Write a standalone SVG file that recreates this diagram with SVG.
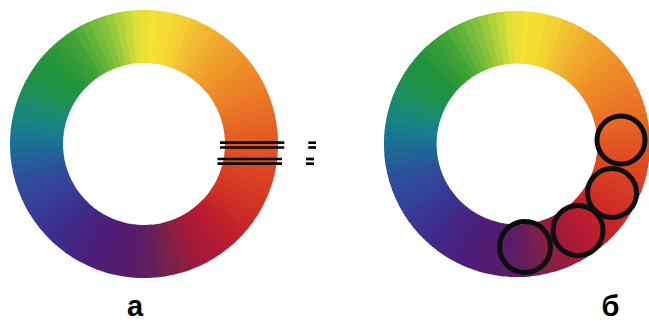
<svg xmlns="http://www.w3.org/2000/svg" xmlns:xlink="http://www.w3.org/1999/xlink" width="649" height="322" viewBox="0 0 649 322">
<style>
.ln{stroke:#000;stroke-width:2.7;fill:none}
.ring-mark{fill:none;stroke:#0d0d0d;stroke-width:5}
.lbl{font-family:"Liberation Sans",Arial,sans-serif;font-weight:bold;font-size:29px;fill:#000;text-anchor:middle}
</style>
<defs>
<path id="w" d="M0,-134 A134,134 0 0 1 9.93,-133.63 L6.00,-80.78 A81,81 0 0 0 0,-81 Z"/>
<g id="wheel" transform="rotate(1.875)">
<use href="#w" fill="#f6e134" transform="rotate(0)"/>
<use href="#w" fill="#f5de34" transform="rotate(3.75)"/>
<use href="#w" fill="#f5db34" transform="rotate(7.5)"/>
<use href="#w" fill="#f4d433" transform="rotate(11.25)"/>
<use href="#w" fill="#f4ce33" transform="rotate(15)"/>
<use href="#w" fill="#f3c432" transform="rotate(18.75)"/>
<use href="#w" fill="#f3bb32" transform="rotate(22.5)"/>
<use href="#w" fill="#f2b431" transform="rotate(26.25)"/>
<use href="#w" fill="#f1ac30" transform="rotate(30)"/>
<use href="#w" fill="#f0a52e" transform="rotate(33.75)"/>
<use href="#w" fill="#f09f2c" transform="rotate(37.5)"/>
<use href="#w" fill="#ef992a" transform="rotate(41.25)"/>
<use href="#w" fill="#ef9329" transform="rotate(45)"/>
<use href="#w" fill="#ee8d28" transform="rotate(48.75)"/>
<use href="#w" fill="#ee8827" transform="rotate(52.5)"/>
<use href="#w" fill="#ed8327" transform="rotate(56.25)"/>
<use href="#w" fill="#ec7e27" transform="rotate(60)"/>
<use href="#w" fill="#eb7826" transform="rotate(63.75)"/>
<use href="#w" fill="#ea7326" transform="rotate(67.5)"/>
<use href="#w" fill="#e86d25" transform="rotate(71.25)"/>
<use href="#w" fill="#e76725" transform="rotate(75)"/>
<use href="#w" fill="#e56124" transform="rotate(78.75)"/>
<use href="#w" fill="#e45b24" transform="rotate(82.5)"/>
<use href="#w" fill="#e25624" transform="rotate(86.25)"/>
<use href="#w" fill="#e15124" transform="rotate(90)"/>
<use href="#w" fill="#df4c23" transform="rotate(93.75)"/>
<use href="#w" fill="#dd4823" transform="rotate(97.5)"/>
<use href="#w" fill="#db4323" transform="rotate(101.25)"/>
<use href="#w" fill="#d93f23" transform="rotate(105)"/>
<use href="#w" fill="#d63b23" transform="rotate(108.75)"/>
<use href="#w" fill="#d33724" transform="rotate(112.5)"/>
<use href="#w" fill="#d03225" transform="rotate(116.25)"/>
<use href="#w" fill="#ce2e26" transform="rotate(120)"/>
<use href="#w" fill="#c92928" transform="rotate(123.75)"/>
<use href="#w" fill="#c5242a" transform="rotate(127.5)"/>
<use href="#w" fill="#c0202c" transform="rotate(131.25)"/>
<use href="#w" fill="#bc1c2f" transform="rotate(135)"/>
<use href="#w" fill="#b61b31" transform="rotate(138.75)"/>
<use href="#w" fill="#b01a34" transform="rotate(142.5)"/>
<use href="#w" fill="#a91a36" transform="rotate(146.25)"/>
<use href="#w" fill="#a31a39" transform="rotate(150)"/>
<use href="#w" fill="#981c3d" transform="rotate(153.75)"/>
<use href="#w" fill="#8e1e42" transform="rotate(157.5)"/>
<use href="#w" fill="#831f47" transform="rotate(161.25)"/>
<use href="#w" fill="#78214c" transform="rotate(165)"/>
<use href="#w" fill="#6e2053" transform="rotate(168.75)"/>
<use href="#w" fill="#641f5b" transform="rotate(172.5)"/>
<use href="#w" fill="#5e1e61" transform="rotate(176.25)"/>
<use href="#w" fill="#591d67" transform="rotate(180)"/>
<use href="#w" fill="#561c6a" transform="rotate(183.75)"/>
<use href="#w" fill="#541c6e" transform="rotate(187.5)"/>
<use href="#w" fill="#521c71" transform="rotate(191.25)"/>
<use href="#w" fill="#501c75" transform="rotate(195)"/>
<use href="#w" fill="#4e1d78" transform="rotate(198.75)"/>
<use href="#w" fill="#4c1e7c" transform="rotate(202.5)"/>
<use href="#w" fill="#4a207f" transform="rotate(206.25)"/>
<use href="#w" fill="#472283" transform="rotate(210)"/>
<use href="#w" fill="#442685" transform="rotate(213.75)"/>
<use href="#w" fill="#402988" transform="rotate(217.5)"/>
<use href="#w" fill="#3e2e8b" transform="rotate(221.25)"/>
<use href="#w" fill="#3b328f" transform="rotate(225)"/>
<use href="#w" fill="#393692" transform="rotate(228.75)"/>
<use href="#w" fill="#373b96" transform="rotate(232.5)"/>
<use href="#w" fill="#354098" transform="rotate(236.25)"/>
<use href="#w" fill="#33449a" transform="rotate(240)"/>
<use href="#w" fill="#32489b" transform="rotate(243.75)"/>
<use href="#w" fill="#304b9c" transform="rotate(247.5)"/>
<use href="#w" fill="#2c519b" transform="rotate(251.25)"/>
<use href="#w" fill="#28579a" transform="rotate(255)"/>
<use href="#w" fill="#236098" transform="rotate(258.75)"/>
<use href="#w" fill="#1e6897" transform="rotate(262.5)"/>
<use href="#w" fill="#1b7094" transform="rotate(266.25)"/>
<use href="#w" fill="#187892" transform="rotate(270)"/>
<use href="#w" fill="#187e8a" transform="rotate(273.75)"/>
<use href="#w" fill="#188483" transform="rotate(277.5)"/>
<use href="#w" fill="#198878" transform="rotate(281.25)"/>
<use href="#w" fill="#1a8b6d" transform="rotate(285)"/>
<use href="#w" fill="#1c8e60" transform="rotate(288.75)"/>
<use href="#w" fill="#1d9053" transform="rotate(292.5)"/>
<use href="#w" fill="#1f914c" transform="rotate(296.25)"/>
<use href="#w" fill="#209145" transform="rotate(300)"/>
<use href="#w" fill="#229240" transform="rotate(303.75)"/>
<use href="#w" fill="#24933a" transform="rotate(307.5)"/>
<use href="#w" fill="#2b9739" transform="rotate(311.25)"/>
<use href="#w" fill="#329b37" transform="rotate(315)"/>
<use href="#w" fill="#3aa036" transform="rotate(318.75)"/>
<use href="#w" fill="#42a435" transform="rotate(322.5)"/>
<use href="#w" fill="#52ac37" transform="rotate(326.25)"/>
<use href="#w" fill="#62b338" transform="rotate(330)"/>
<use href="#w" fill="#73bb39" transform="rotate(333.75)"/>
<use href="#w" fill="#83c23a" transform="rotate(337.5)"/>
<use href="#w" fill="#99ca3a" transform="rotate(341.25)"/>
<use href="#w" fill="#afd23a" transform="rotate(345)"/>
<use href="#w" fill="#c7d939" transform="rotate(348.75)"/>
<use href="#w" fill="#dedf37" transform="rotate(352.5)"/>
<use href="#w" fill="#eae036" transform="rotate(356.25)"/>
</g>
</defs>
<rect width="649" height="322" fill="#ffffff"/>
<g id="ring-a">
<use href="#wheel" transform="translate(144,144)"/>
</g>
<g id="ring-b">
<use href="#wheel" transform="translate(517,144) scale(0.993)"/>
</g>
<g id="connectors">
<line class="ln" x1="220" y1="142.7" x2="284.3" y2="142.7"/>
<line class="ln" x1="220" y1="147.5" x2="284.3" y2="147.5"/>
<line class="ln" x1="217.5" y1="159" x2="282" y2="159"/>
<line class="ln" x1="217.5" y1="163.7" x2="282" y2="163.7"/>
<line class="ln" x1="308.3" y1="142.7" x2="316" y2="142.7"/>
<line class="ln" x1="308.3" y1="147.5" x2="316" y2="147.5"/>
<line class="ln" x1="306" y1="159" x2="314" y2="159"/>
<line class="ln" x1="306" y1="163.7" x2="314" y2="163.7"/>
</g>
<g id="circle-1"><circle class="ring-mark" cx="621" cy="140" r="24"/></g>
<g id="circle-2"><circle class="ring-mark" cx="612" cy="193" r="24.5"/></g>
<g id="circle-3"><circle class="ring-mark" cx="578" cy="230.5" r="25"/></g>
<g id="circle-4"><circle class="ring-mark" cx="525" cy="247" r="25.5"/></g>
<g id="label-a"><text class="lbl" x="135" y="316">а</text></g>
<g id="label-b"><text class="lbl" x="610.5" y="316">б</text></g>
</svg>
